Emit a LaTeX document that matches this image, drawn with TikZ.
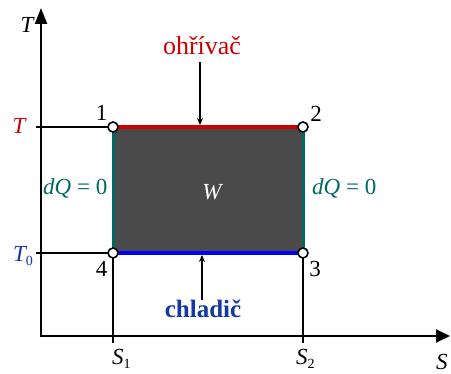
\documentclass[tikz,border=0pt]{standalone}
\usepackage{fontspec}
\setmainfont{Liberation Serif}
\newfontfamily\tnr{Liberation Serif}
\usetikzlibrary{arrows.meta}
\definecolor{hotred}{RGB}{204,0,0}
\definecolor{coldblue}{RGB}{0,0,255}
\definecolor{textblue}{RGB}{20,55,160}
\definecolor{adteal}{RGB}{0,105,100}
\definecolor{workgray}{RGB}{74,74,74}
\newcommand{\lsub}[1]{\raisebox{-0.35ex}{\fontsize{14}{14}\selectfont\upshape #1}}
\begin{document}
\begin{tikzpicture}[x=1pt,y=-1pt,
  axis/.style={line width=2.2pt},
  guide/.style={line width=2pt},
  hotline/.style={hotred,line width=3.5pt},
  coldline/.style={coldblue,line width=3.5pt},
  adline/.style={adteal,line width=3pt},
  ptr/.style={line width=1.6pt,-{Stealth[length=7pt,width=6pt]}},
  corner/.style={circle,draw=black,fill=white,line width=1.6pt,minimum size=10pt,inner sep=0pt},
  lbl/.style={inner sep=0pt,font=\tnr\fontsize{23}{23}\selectfont},
  biglbl/.style={inner sep=0pt,font=\tnr\fontsize{26}{26}\selectfont}]
\useasboundingbox (0,0) rectangle (451,374);
% axes
\coordinate (ytop) at (41,8);
\coordinate (orig) at (41,336);
\coordinate (xend) at (450,336);
\draw[axis,{Triangle[length=16pt,width=12pt]}-{Triangle[length=14pt,width=13pt]}] (ytop) -- (orig) -- (xend);
% corners
\coordinate (c1) at (113,127);
\coordinate (c2) at (303,127);
\coordinate (c3) at (303,253);
\coordinate (c4) at (113,253);
\fill[workgray] (c1) rectangle (c3);
% guides
\coordinate (tT) at (36,127);
\coordinate (tT0) at (36,253);
\coordinate (s1) at (113,343);
\coordinate (s2) at (303,343);
\draw[guide] (tT) -- (c1);
\draw[guide] (tT0) -- (c4);
\draw[guide] (c4) -- (s1);
\draw[guide] (c3) -- (s2);
% process lines
\draw[adline] (c1) -- (c4);
\draw[adline] (c2) -- (c3);
\draw[hotline] (c1) -- (c2);
\draw[coldline] (c4) -- (c3);
\node[corner] (p1) at (c1) {};
\node[corner] (p2) at (c2) {};
\node[corner] (p3) at (c3) {};
\node[corner] (p4) at (c4) {};
% heat arrows
\coordinate (ha) at (200,62);
\coordinate (hb) at (200,125);
\draw[ptr] (ha) -- (hb);
\coordinate (ca) at (202,300);
\coordinate (cb) at (202,255);
\draw[ptr] (ca) -- (cb);
% labels
\node[biglbl,text=hotred,anchor=base] (hot) at (202,55) {ohřívač};
\node[biglbl,text=textblue,anchor=base,font=\tnr\fontsize{25}{25}\selectfont\bfseries] (cold) at (203,318) {chladič};
\node[lbl,anchor=base] (lTax) at (27,33) {\itshape T};
\node[lbl,anchor=base,text=hotred] (lT) at (19,134) {\itshape T};
\node[lbl,anchor=base west,text=textblue] (lT0) at (13,262) {\itshape T\lsub{0}};
\node[lbl,anchor=base west,text=adteal] (dq1) at (43,195) {{\itshape dQ} = 0};
\node[lbl,anchor=base west,text=adteal] (dq2) at (312,195) {{\itshape dQ} = 0};
\node[lbl,anchor=base,text=white] (w) at (212,200) {\itshape W};
\node[lbl,anchor=base] (n1) at (101.5,121) {1};
\node[lbl,anchor=base] (n2) at (316,122) {2};
\node[lbl,anchor=base] (n3) at (315,277) {3};
\node[lbl,anchor=base] (n4) at (101.5,277) {4};
\node[lbl,anchor=base west] (ls1) at (112,365) {\itshape S\lsub{1}};
\node[lbl,anchor=base west] (ls2) at (296,365) {\itshape S\lsub{2}};
\node[lbl,anchor=base west] (lS) at (436,370) {\itshape S};
\end{tikzpicture}
\end{document}
